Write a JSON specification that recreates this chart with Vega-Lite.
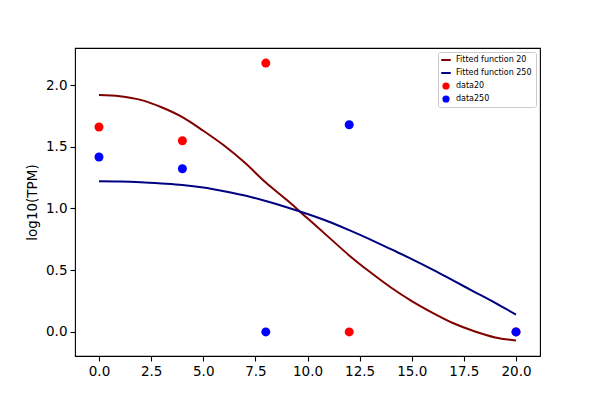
{
  "$schema": "https://vega.github.io/schema/vega-lite/v6.json",
  "width": 465,
  "height": 308,
  "autosize": "none",
  "padding": {"left": 75, "top": 48, "right": 60, "bottom": 44},
  "background": "white",
  "config": {
    "view": {"stroke": "black", "strokeWidth": 1.1},
    "font": "DejaVu Sans",
    "axis": {
      "grid": false,
      "domain": false,
      "tickColor": "black",
      "tickSize": 5,
      "tickWidth": 1.1,
      "labelColor": "black",
      "labelFontSize": 13.5,
      "labelPadding": 3,
      "titleColor": "black",
      "titleFontSize": 13.5,
      "titleFontWeight": "normal"
    }
  },
  "datasets": {
    "curves": [
      {"x": 0, "y": 1.92, "series": "Fitted function 20"},
      {"x": 1, "y": 1.91, "series": "Fitted function 20"},
      {"x": 2, "y": 1.88, "series": "Fitted function 20"},
      {"x": 3, "y": 1.82, "series": "Fitted function 20"},
      {"x": 4, "y": 1.74, "series": "Fitted function 20"},
      {"x": 5, "y": 1.63, "series": "Fitted function 20"},
      {"x": 6, "y": 1.51, "series": "Fitted function 20"},
      {"x": 7, "y": 1.37, "series": "Fitted function 20"},
      {"x": 8, "y": 1.21, "series": "Fitted function 20"},
      {"x": 9, "y": 1.07, "series": "Fitted function 20"},
      {"x": 10, "y": 0.92, "series": "Fitted function 20"},
      {"x": 11, "y": 0.77, "series": "Fitted function 20"},
      {"x": 12, "y": 0.62, "series": "Fitted function 20"},
      {"x": 13, "y": 0.485, "series": "Fitted function 20"},
      {"x": 14, "y": 0.36, "series": "Fitted function 20"},
      {"x": 15, "y": 0.25, "series": "Fitted function 20"},
      {"x": 16, "y": 0.155, "series": "Fitted function 20"},
      {"x": 17, "y": 0.07, "series": "Fitted function 20"},
      {"x": 18, "y": 0.005, "series": "Fitted function 20"},
      {"x": 19, "y": -0.045, "series": "Fitted function 20"},
      {"x": 20, "y": -0.07, "series": "Fitted function 20"},
      {"x": 0, "y": 1.22, "series": "Fitted function 250"},
      {"x": 1, "y": 1.218, "series": "Fitted function 250"},
      {"x": 2, "y": 1.212, "series": "Fitted function 250"},
      {"x": 3, "y": 1.202, "series": "Fitted function 250"},
      {"x": 4, "y": 1.19, "series": "Fitted function 250"},
      {"x": 5, "y": 1.17, "series": "Fitted function 250"},
      {"x": 6, "y": 1.14, "series": "Fitted function 250"},
      {"x": 7, "y": 1.105, "series": "Fitted function 250"},
      {"x": 8, "y": 1.06, "series": "Fitted function 250"},
      {"x": 9, "y": 1.01, "series": "Fitted function 250"},
      {"x": 10, "y": 0.955, "series": "Fitted function 250"},
      {"x": 11, "y": 0.895, "series": "Fitted function 250"},
      {"x": 12, "y": 0.825, "series": "Fitted function 250"},
      {"x": 13, "y": 0.75, "series": "Fitted function 250"},
      {"x": 14, "y": 0.67, "series": "Fitted function 250"},
      {"x": 15, "y": 0.59, "series": "Fitted function 250"},
      {"x": 16, "y": 0.505, "series": "Fitted function 250"},
      {"x": 17, "y": 0.415, "series": "Fitted function 250"},
      {"x": 18, "y": 0.325, "series": "Fitted function 250"},
      {"x": 19, "y": 0.235, "series": "Fitted function 250"},
      {"x": 20, "y": 0.14, "series": "Fitted function 250"}
    ],
    "points": [
      {"x": 0, "y": 1.66, "series": "data20"},
      {"x": 4, "y": 1.549, "series": "data20"},
      {"x": 8, "y": 2.178, "series": "data20"},
      {"x": 12, "y": 0, "series": "data20"},
      {"x": 20, "y": 0, "series": "data20"},
      {"x": 0, "y": 1.417, "series": "data250"},
      {"x": 4, "y": 1.322, "series": "data250"},
      {"x": 8, "y": 0, "series": "data250"},
      {"x": 12, "y": 1.678, "series": "data250"},
      {"x": 20, "y": 0, "series": "data250"}
    ]
  },
  "encoding": {
    "x": {
      "field": "x",
      "type": "quantitative",
      "title": null,
      "scale": {"domain": [-1.15, 21.15], "nice": false, "zero": false},
      "axis": {"values": [0, 2.5, 5, 7.5, 10, 12.5, 15, 17.5, 20], "format": ".1f"}
    },
    "y": {
      "field": "y",
      "type": "quantitative",
      "title": "log10(TPM)",
      "scale": {"domain": [-0.195, 2.3], "nice": false, "zero": false},
      "axis": {"values": [0, 0.5, 1, 1.5, 2], "format": ".1f", "titlePadding": 6}
    },
    "color": {
      "field": "series",
      "type": "nominal",
      "scale": {
        "domain": ["Fitted function 20", "Fitted function 250", "data20", "data250"],
        "range": ["#800000", "#000080", "#ff0000", "#0000ff"]
      },
      "legend": {
        "title": null,
        "orient": "top-right",
        "offset": 4,
        "padding": 4,
        "rowPadding": 5,
        "strokeColor": "#cccccc",
        "fillColor": "white",
        "cornerRadius": 2,
        "labelFontSize": 8,
        "labelColor": "black",
        "labelOffset": 6,
        "symbolSize": 340,
        "symbolOpacity": 1,
        "encode": {
          "symbols": {
            "update": {
              "shape": {"signal": "indexof(['data20','data250'], datum.value) >= 0 ? 'circle' : 'stroke'"},
              "size": {"signal": "indexof(['data20','data250'], datum.value) >= 0 ? 52 : 90"},
              "strokeWidth": {"signal": "indexof(['data20','data250'], datum.value) >= 0 ? 0 : 2"},
              "fill": {"scale": "color", "field": "value"},
              "stroke": {"scale": "color", "field": "value"},
              "opacity": {"value": 1}
            }
          }
        }
      }
    }
  },
  "layer": [
    {
      "data": {"name": "curves"},
      "mark": {"type": "line", "strokeWidth": 2, "interpolate": "monotone", "clip": true},
      "encoding": {"order": {"field": "x", "type": "quantitative"}}
    },
    {
      "data": {"name": "points"},
      "mark": {"type": "circle", "size": 81, "opacity": 1}
    }
  ]
}
